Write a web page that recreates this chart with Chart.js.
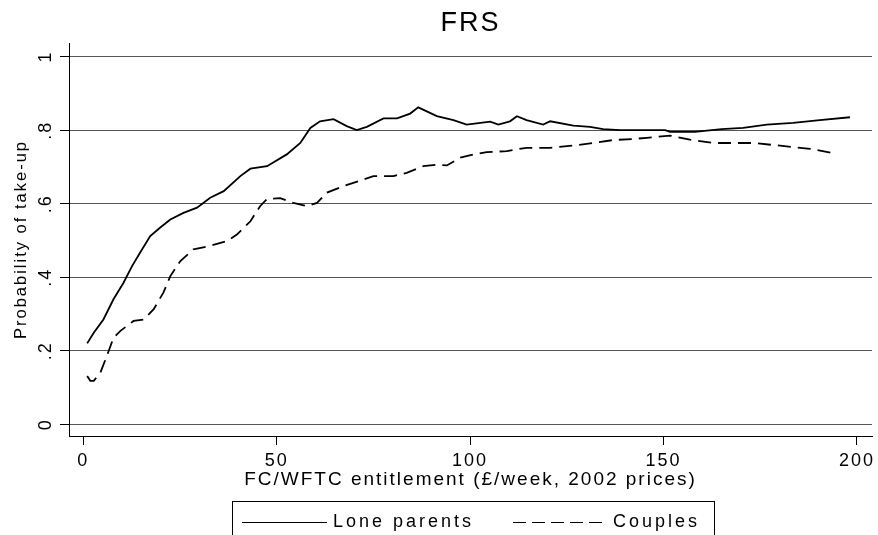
<!DOCTYPE html>
<html>
<head>
<meta charset="utf-8">
<title>FRS take-up</title>
<script src="https://cdn.jsdelivr.net/npm/chart.js@4/dist/chart.umd.min.js"></script>
<style>
  html, body { margin: 0; padding: 0; background: #fff; }
</style>
</head>
<body>
<canvas id="chart" width="878" height="535"></canvas>
<script>
// values
var titleText = 'FRS';
var xAxisTitle = 'FC/WFTC entitlement (£/week, 2002 prices)';
var yAxisTitle = 'Probability of take-up';
var xTicks = [0, 50, 100, 150, 200];
var yTicks = [0, 0.2, 0.4, 0.6, 0.8, 1];
var yTickLabels = ['0', '.2', '.4', '.6', '.8', '1'];
var seriesNames = ['Lone parents', 'Couples'];

var loneX = [1, 2.7, 5.2, 7.8, 10.4, 12.6, 14.7, 17.3, 19.9, 22.5, 25.9, 29.4, 32.8, 36.3,
  40.6, 43.2, 47.5, 52.6, 56.1, 58.7, 61.2, 64.7, 68.1, 70.7, 73.3, 77.6, 81.1, 84.5,
  86.6, 88.8, 91.4, 95.7, 99.1, 105.2, 107.3, 110.3, 112.1, 114.6, 118.9, 120.7, 126.7,
  131, 134.4, 138.8, 143.9, 150.4, 151.7, 158.1, 165, 170.6, 176.7, 183.5, 190.4, 198.2];
var loneY = [.22, .249, .285, .34, .385, .43, .467, .512, .535, .557, .575, .589, .616, .634,
  .675, .695, .702, .734, .765, .806, .824, .83, .811, .80, .809, .832, .832, .845,
  .862, .851, .838, .827, .815, .823, .815, .824, .838, .827, .815, .824, .812,
  .809, .803, .80, .80, .80, .795, .795, .803, .806, .815, .82, .827, .835];

var coupleX = [1, 1.8, 2.7, 4.4, 6.1, 7.8, 9.6, 13, 15.6, 18.2, 20.7, 22.5, 25.1, 28.5, 32,
  37.1, 39.7, 43.2, 45.7, 47.5, 50.9, 54.3, 57.8, 60.4, 63, 67.3, 71.1, 75, 80.2, 83.6,
  87.9, 91.4, 94, 97.4, 100.9, 104.3, 109.5, 114.6, 120.7, 126.7, 131.9, 137, 142.2,
  145.7, 151.7, 156.8, 162.9, 173.2, 181.8, 187.9, 194.7];
var coupleY = [.131, .118, .118, .14, .186, .235, .254, .281, .285, .313, .358, .403, .444, .476, .483,
  .498, .516, .552, .593, .613, .615, .602, .593, .602, .63, .648, .661, .675, .675, .684,
  .702, .706, .704, .725, .734, .74, .743, .752, .752, .758, .765, .773, .776,
  .779, .785, .774, .765, .765, .756, .749, .736];

function toPoints(xs, ys) {
  return xs.map(function(x, i) { return {x: x, y: ys[i]}; });
}

Chart.defaults.font.family = '"Liberation Sans", Arial, sans-serif';
Chart.defaults.color = '#000';

// Stata spreads its letters out, so widen the canvas text a bit
var spacing = {
  id: 'spacing',
  beforeDraw: function(chart) { chart.ctx.letterSpacing = '2px'; }
};

// boxed legend under the axis title
var boxLegend = {
  id: 'boxLegend',
  afterDraw: function(chart) {
    var ctx = chart.ctx;
    var sets = chart.data.datasets;
    ctx.save();
    ctx.letterSpacing = '3px';
    ctx.strokeStyle = '#000';
    ctx.lineWidth = 1;
    ctx.strokeRect(232.5, 501.5, 482, 60);
    ctx.font = '18px "Liberation Sans", Arial, sans-serif';
    ctx.fillStyle = '#000';
    ctx.textBaseline = 'middle';
    var y = 522.5;
    var lines = [[242, 327, 333], [513, 607, 613]];
    sets.forEach(function(ds, i) {
      ctx.beginPath();
      ctx.setLineDash(ds.borderDash ? [13, 6] : []);
      ctx.moveTo(lines[i][0], y);
      ctx.lineTo(lines[i][1], y);
      ctx.stroke();
      ctx.setLineDash([]);
      ctx.fillText(ds.label, lines[i][2], y);
    });
    ctx.restore();
  }
};

new Chart(document.getElementById('chart'), {
  type: 'line',
  data: {
    datasets: [{
      label: seriesNames[0],
      data: toPoints(loneX, loneY),
      borderColor: '#000',
      borderWidth: 1.8,
      pointRadius: 0,
      fill: false
    }, {
      label: seriesNames[1],
      data: toPoints(coupleX, coupleY),
      borderColor: '#000',
      borderWidth: 1.8,
      borderDash: [13, 7],
      pointRadius: 0,
      fill: false
    }]
  },
  options: {
    responsive: false,
    animation: false,
    layout: { padding: { left: 0, right: 6, top: 0, bottom: 44 } },
    plugins: {
      legend: { display: false },
      tooltip: { enabled: false },
      title: {
        display: true,
        text: titleText,
        fullSize: false,
        font: { size: 27, weight: 'normal', lineHeight: 1.2 },
        padding: { top: 7, bottom: 3.6 }
      }
    },
    scales: {
      x: {
        type: 'linear',
        min: -3.7,
        max: 203.9,
        afterBuildTicks: function(scale) {
          scale.ticks = xTicks.map(function(v) { return {value: v}; });
        },
        afterFit: function(scale) { scale.height = 55; },
        ticks: { font: { size: 18 }, padding: 5, maxRotation: 0, autoSkip: false },
        grid: { drawOnChartArea: false, tickLength: 9, tickColor: '#000', tickWidth: 1 },
        border: { color: '#000', width: 1 },
        title: { display: true, text: xAxisTitle, font: { size: 19 }, padding: { top: 0, bottom: 0 } }
      },
      y: {
        type: 'linear',
        min: -0.032,
        max: 1.037,
        afterBuildTicks: function(scale) {
          scale.ticks = yTicks.map(function(v) { return {value: v}; });
        },
        afterFit: function(scale) { scale.width = 69; },
        ticks: {
          font: { size: 18 },
          padding: 6,
          minRotation: 90,
          maxRotation: 90,
          crossAlign: 'center',
          autoSkip: false,
          callback: function(value) {
            var i = yTicks.indexOf(value);
            return i >= 0 ? yTickLabels[i] : '';
          }
        },
        grid: { color: '#555', lineWidth: 1, tickLength: 9, tickColor: '#000' },
        border: { color: '#000', width: 1 },
        title: { display: true, text: yAxisTitle, font: { size: 16.5 }, padding: { top: 12 } }
      }
    }
  },
  plugins: [spacing, boxLegend]
});
</script>
</body>
</html>
